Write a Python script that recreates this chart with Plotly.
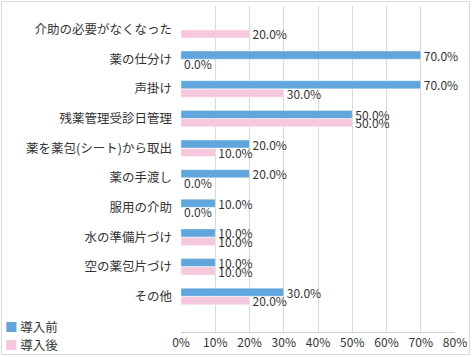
import plotly.graph_objects as go

categories = ["介助の必要がなくなった", "薬の仕分け", "声掛け", "残薬管理受診日管理",
              "薬を薬包(シート)から取出", "薬の手渡し", "服用の介助", "水の準備片づけ",
              "空の薬包片づけ", "その他"]
before = [None, 70, 70, 50, 20, 20, 10, 10, 10, 30]
after = [20, 0, 30, 50, 10, 0, 0, 10, 10, 20]
series_names = ["導入前", "導入後"]
x_ticks = [0, 10, 20, 30, 40, 50, 60, 70, 80]
x_tick_labels = [f"{t}%" for t in x_ticks]

BLUE = "#60A6DC"
PINK = "#F6C8DE"
FONT = "Noto Sans CJK JP"
W, H = 472, 357
ML, MR, MT, MB = 181, 17, 6, 25


def fmt(v):
    return "" if v is None else f"{v:.1f}%"


fig = go.Figure()
series = [(series_names[0], before, BLUE), (series_names[1], after, PINK)]
for name, vals, col in series:
    fig.add_trace(go.Bar(
        y=categories, x=vals, name=name, orientation="h",
        marker=dict(color=col, line=dict(color="rgba(255,255,255,0.6)", width=0.6)),
        text=[fmt(v) for v in vals], textposition="outside",
        textfont=dict(family=FONT, size=12, color="#333333"),
        cliponaxis=False, constraintext="none", showlegend=False,
    ))

pw = W - ML - MR
ph = H - MT - MB


def px_x(p):
    return (p - ML) / pw


def px_y(p):
    return (H - MB - p) / ph


annotations = []
for i, (name, vals, col) in enumerate(series):
    annotations.append(dict(
        xref="paper", yref="paper", x=px_x(3), y=px_y(326 + 18 * i),
        xanchor="left", yanchor="middle", showarrow=False,
        text=f"<span style='color:{col}'>■</span> {name}",
        font=dict(family=FONT, size=12.5, color="#333333"),
    ))

fig.update_layout(
    width=W, height=H,
    margin=dict(l=ML, r=MR, t=MT, b=MB, autoexpand=False),
    barmode="group", bargap=0.43, bargroupgap=0.05,
    plot_bgcolor="white", paper_bgcolor="white",
    font=dict(family=FONT, size=12, color="#333333"),
    xaxis=dict(range=[0, 80], tickvals=x_ticks, ticktext=x_tick_labels,
               showgrid=True, gridcolor="#D9D9D9", gridwidth=1,
               showline=True, linecolor="#D0D0D0", linewidth=1,
               zeroline=False, ticks="", automargin=False,
               tickfont=dict(size=12, color="#333333")),
    yaxis=dict(categoryorder="array", categoryarray=categories,
               range=[10.2, -0.8], showgrid=False, zeroline=False,
               showline=False, ticks="", ticklabelstandoff=8, automargin=False,
               tickfont=dict(size=12.5, color="#333333")),
    showlegend=False,
    annotations=annotations,
    shapes=[dict(type="rect", xref="paper", yref="paper",
                 x0=px_x(1.5), x1=px_x(469.5),
                 y0=px_y(354.5), y1=px_y(1.5),
                 line=dict(color="#D9D9D9", width=1), fillcolor="rgba(0,0,0,0)",
                 layer="below")],
)
fig.write_html("out.html", config={"displayModeBar": False},
               post_script="document.body.style.margin='0';document.body.style.padding='0';document.body.style.overflow='hidden';")
